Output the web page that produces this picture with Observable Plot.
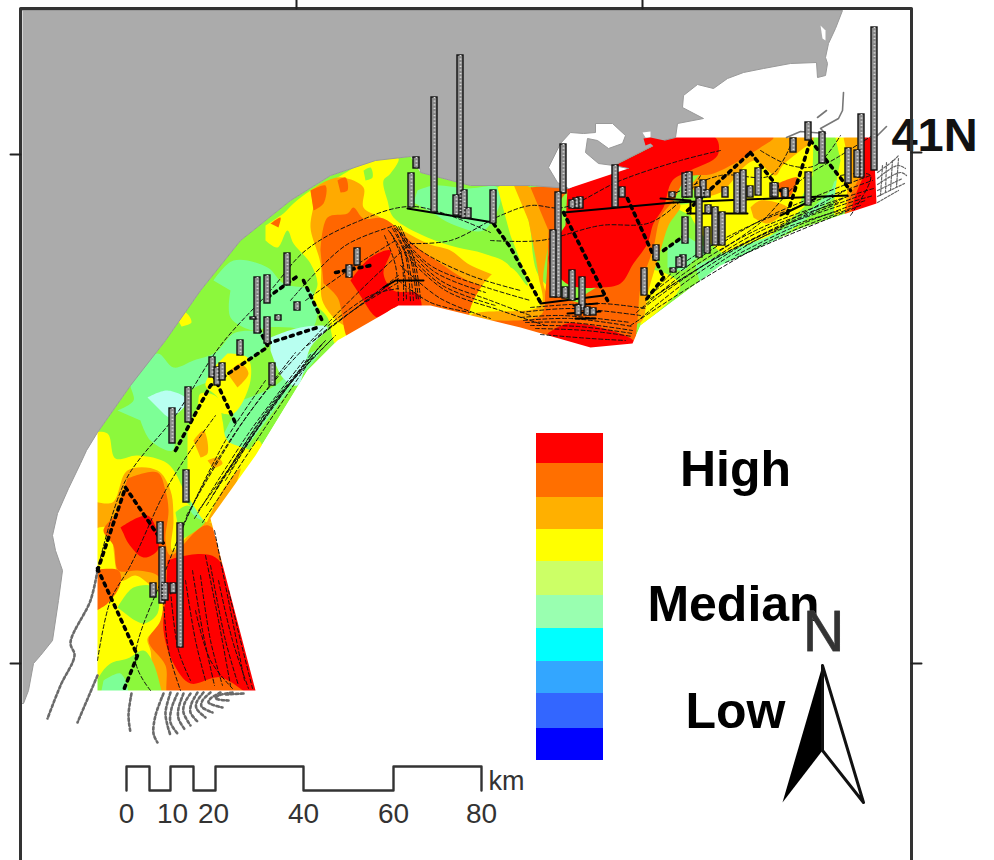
<!DOCTYPE html>
<html><head><meta charset="utf-8">
<style>html,body{margin:0;padding:0;background:#fff}svg{display:block}</style>
<script src="https://cdn.jsdelivr.net/npm/d3@7"></script>
<script src="https://cdn.jsdelivr.net/npm/@observablehq/plot@0.6"></script>
</head><body><div id="chart"></div>
<script>
const RED="#ff0000",DEEP="#ff6600",ORANGE="#ffaa00",YELLOW="#ffff00",LIME="#8cf83c",MINT="#7dff96",PALE="#b8fff0";
const LAND="#ababab";

const shelfBase=[[97,690],[97,432],[130,385],[165,340],[200,290],[240,240],[290,200],[330,175],[375,160],[410,156],[420,172],[470,185],[530,185],[568,188],[663,140],[665,137],[873,137],[876,203],[800,228],[720,265],[640,325],[632,343],[590,347],[520,327],[430,305],[398,305],[337,340],[307,370],[255,455],[210,518],[255,690]];

const sw_yellow=[[90,432],[107,433],[115,458],[137,455],[167,463],[182,487],[187,503],[210,518],[233,597],[262,700],[90,700]];
const sw_orange=[[90,500],[112,502],[127,470],[157,470],[170,490],[173,520],[172,550],[210,518],[262,700],[160,700],[150,650],[147,638],[160,625],[160,595],[150,585],[135,575],[120,580],[107,527],[90,530]];
const sw_deep=[[127,478],[157,472],[165,490],[168,510],[165,540],[170,555],[208,525],[262,700],[170,700],[165,665],[148,640],[160,620],[163,590],[157,575],[137,570],[118,570],[113,545],[103,530],[115,515]];
const sw_deep2=[[90,570],[118,570],[120,583],[107,603],[90,613]];
const sw_limeRing=[[117,607],[133,587],[155,587],[157,613],[143,623],[130,617]];
const sw_limeLow=[[90,700],[98,677],[110,663],[127,658],[143,650],[153,663],[163,700]];
const sw_mintLow=[[103,680],[120,673],[127,695],[100,695]];
const sw_red1=[[120,527],[147,515],[157,533],[157,550],[143,557],[128,543],[123,533]];
const sw_red2=[[167,560],[215,557],[262,700],[220,677],[190,683],[173,663],[163,630],[165,600]];
const sw_deep3=[[190,695],[220,677],[225,695]];
const sw_strip=[[175,512],[187,505],[205,520],[180,540]];

const w_mint=[[117,410],[133,400],[130,380],[157,353],[173,367],[193,360],[215,352],[235,332],[270,335],[265,345],[225,375],[190,390],[175,415],[172,450],[150,440],[140,420]];
const w_mint2=[[213,280],[233,260],[267,267],[283,283],[310,290],[317,310],[310,330],[290,327],[267,327],[253,330],[230,317],[230,290]];
const w_mintBand=[[240,400],[275,385],[305,355],[320,350],[285,395],[255,435],[230,470],[215,505],[205,520],[190,510],[215,450]];
const w_pale1=[[270,337],[300,327],[327,327],[310,347],[297,385],[283,378],[270,350]];
const w_pale2=[[147,397],[167,390],[187,400],[170,417],[163,413]];
const w_yellow=[[187,430],[197,407],[200,393],[217,397],[222,420],[227,440],[255,455],[215,510],[207,522],[193,505],[186,490],[187,470]];
const w_yellow2=[[227,353],[247,357],[250,380],[233,413],[217,410],[217,397],[205,385],[215,365]];
const w_orange1=[[193,440],[203,430],[207,453],[200,457]];
const w_orange2=[[207,460],[217,457],[222,463],[213,468]];
const w_orange3=[[227,373],[240,363],[248,373],[237,387]];
const w_coastYellow=[[175,315],[185,312],[191,322],[181,326]];
const w_edgeYellow=[[207,522],[232,478],[258,440],[262,450],[215,522]];
const w_edgeOrange=[[205,525],[222,490],[240,468],[225,510]];

const m_yellow=[[265,225],[283,213],[293,203],[310,190],[337,177],[363,163],[398,158],[390,173],[383,180],[387,200],[393,217],[427,237],[457,247],[483,253],[510,267],[510,330],[395,307],[337,345],[327,317],[313,300],[317,283],[310,263],[293,243],[287,230],[277,247],[265,240]];
const m_orange=[[310,190],[327,180],[342,177],[363,187],[363,207],[380,217],[427,243],[450,250],[467,263],[510,287],[510,330],[395,307],[350,327],[323,303],[320,263],[310,227],[313,207]];
const m_deep=[[320,250],[327,217],[347,213],[353,207],[363,218],[383,218],[417,247],[440,263],[467,280],[510,297],[510,330],[395,307],[350,340],[337,297],[323,283]];
const m_deep2=[[310,190],[325,185],[323,203],[313,210]];
const m_deep3=[[337,180],[345,177],[347,190],[340,192]];
const m_deep4=[[270,223],[280,217],[278,227]];
const m_red=[[350,280],[370,257],[390,250],[383,273],[393,290],[417,293],[420,310],[395,307],[377,317],[363,300]];
const m_lime=[[363,170],[370,167],[372,177],[365,180]];
const c_mint=[[417,190],[433,185],[467,188],[497,187],[500,200],[483,230],[450,223],[433,213],[413,202]];

const c_yellow=[[497,187],[512,183],[528,220],[538,275],[575,310],[570,335],[470,320],[490,275],[510,267],[527,285],[510,235]];
const c_orange=[[513,184],[530,187],[548,230],[545,290],[590,315],[600,340],[470,330],[470,315],[540,305],[538,275],[528,220]];
const c_deep=[[530,187],[568,188],[560,200],[555,230],[553,280],[560,295],[600,310],[632,343],[480,330],[470,322],[540,315],[545,290],[548,230]];

const e_deep=[[655,145],[665,137],[773,137],[760,147],[713,173],[687,177],[673,200],[660,217],[653,247],[640,287],[637,320],[632,343],[600,320],[580,300],[600,285]];
const e_orangeRim=[[660,215],[673,200],[680,205],[668,225],[660,250],[648,290],[640,322],[620,320],[640,285],[650,247]];
const c_red=[[567,188],[663,140],[667,137],[715,137],[717,155],[690,170],[672,180],[663,207],[653,223],[647,243],[633,263],[620,283],[600,287],[570,285],[553,270],[548,257],[565,225]];
const b_red=[[547,333],[567,323],[600,327],[633,340],[636,348],[593,350],[553,340]];

const e_yellow=[[670,205],[700,200],[730,177],[750,150],[790,145],[815,135],[830,175],[805,205],[770,235],[740,260],[705,238],[690,215]];
const e_orange=[[717,152],[760,137],[815,137],[800,150],[782,165],[775,175],[755,160],[745,165],[720,192],[700,195],[690,185]];
const e_orange2=[[750,207],[760,200],[787,207],[783,213],[767,223],[753,217]];
const e_deep2=[[777,183],[797,177],[788,197],[780,197]];
const e_lime=[[813,137],[835,137],[842,160],[838,185],[815,200],[800,205],[812,175]];
const e_mint=[[667,247],[687,237],[693,240],[707,250],[693,260],[683,270],[667,267]];
const e_mintBand=[[695,265],[730,250],[780,230],[830,190],[835,180],[845,183],[790,230],[730,265],[700,285]];
const e_edgeYellow=[[640,325],[680,285],[650,270],[640,295]];
const e_yellow2=[[740,258],[783,232],[800,225],[760,245],[720,265]];
const x_yellow=[[835,137],[845,137],[850,165],[852,200],[835,215],[835,190],[840,160]];
const x_orange=[[843,137],[862,137],[862,170],[845,212],[850,170]];
const x_deep=[[858,137],[873,137],[880,208],[845,215],[860,175]];
const x_red=[[862,137],[873,137],[880,208],[852,212],[862,178]];

const fillLayers=[
 [YELLOW,sw_yellow],[ORANGE,sw_orange],[DEEP,sw_deep],[DEEP,sw_deep2],[LIME,sw_limeRing],[LIME,sw_limeLow],[MINT,sw_mintLow],[RED,sw_red1],[RED,sw_red2],[DEEP,sw_deep3],[LIME,sw_strip],
 [MINT,w_mint],[MINT,w_mint2],[MINT,w_mintBand],[PALE,w_pale1],[PALE,w_pale2],[YELLOW,w_yellow],[YELLOW,w_yellow2],[ORANGE,w_orange1],[ORANGE,w_orange2],[ORANGE,w_orange3],[YELLOW,w_coastYellow],[YELLOW,w_edgeYellow],[ORANGE,w_edgeOrange],
 [YELLOW,m_yellow],[ORANGE,m_orange],[DEEP,m_deep],[DEEP,m_deep2],[DEEP,m_deep3],[DEEP,m_deep4],[RED,m_red],[LIME,m_lime],[MINT,c_mint],
 [YELLOW,e_yellow],[YELLOW,e_yellow2],[ORANGE,e_orange],[ORANGE,e_orange2],[DEEP,e_deep2],[LIME,e_lime],[MINT,e_mint],[MINT,e_mintBand],[YELLOW,e_edgeYellow],
 [YELLOW,c_yellow],[ORANGE,c_orange],[DEEP,c_deep],[ORANGE,e_orangeRim],[DEEP,e_deep],[RED,c_red],[RED,b_red],
 [YELLOW,x_yellow],[ORANGE,x_orange],[DEEP,x_deep],[RED,x_red]
];

const offshoreMask=[[97,432],[97,690],[255,690],[210,518],[255,455],[307,370],[337,340],[398,305],[430,305],[520,327],[590,347],[632,343],[640,325],[720,265],[800,228],[876,203],[873,137],[908,137],[908,858],[22,858],[22,432]];
const topMask=[[664,137],[908,137],[908,10],[664,10]];
const land=[[22,10],[842,10],[835,28],[828,43],[825,57],[827,63],[825,75],[817,77],[816,62],[790,63],[763,68],[743,72],[727,78],[713,88],[697,84],[683,95],[682,107],[703,118],[677,123],[675,137],[663,140],[568,188],[530,185],[470,185],[420,172],[418,160],[410,156],[375,160],[330,175],[290,200],[240,240],[200,290],[165,340],[130,385],[97,432],[86,450],[80,463],[68,488],[57,513],[52,535],[55,550],[62,570],[58,600],[52,640],[40,655],[33,663],[28,690],[23,703],[22,703]];
const bay=[[568,188],[557,182],[548,167],[560,143],[570,132],[583,133],[595,132],[595,123],[612,123],[625,135],[622,143],[608,148],[597,140],[587,138],[585,152],[598,163],[613,165],[628,168]];
const bay2=[[642,132],[650,131],[650,137],[645,137]];
const bay3=[[820,25],[825,30],[825,40],[822,38]];
const redNotch=[[643,138],[650,137],[664,140],[660,152],[650,143],[645,145]];

const coastFan=[
 [[97,570],[90,600],[70,642],[74,655],[60,685],[47,718]],[[97,675],[77,722]],[[131,693],[128,715],[130,732]],[[163,693],[155,715],[153,733],[157,742]],[[170,692],[165,712],[167,725],[170,735]],[[177,693],[171,708],[170,722],[177,733]],[[183,693],[178,708],[178,718],[185,730]],[[190,693],[184,703],[183,712],[190,725]],[[197,692],[191,703],[190,712],[198,722]],[[203,692],[196,702],[196,708],[205,717]],[[210,692],[202,700],[201,706],[212,712]],[[220,692],[210,698],[208,702],[222,707]],[[232,692],[218,695],[215,698],[228,700]],[[243,693],[225,694]],
];
const eastScribble=[[[877,172],[893,160],[898,155]],[[877,178],[897,165],[905,168]],[[877,184],[900,172],[906,175]],[[877,190],[902,178]],[[877,196],[904,183]],[[877,202],[898,190]],[[882,165],[880,195]],[[892,160],[890,190]],[[886,162],[885,192]],[[898,158],[896,186]]];
const capeLine=[[786,137],[800,131],[825,133],[820,128],[838,118],[842,110],[843,92]];
const capeLine2=[[817,117],[826,110]];
const capeLine3=[[877,135],[886,126]];

const contours=[
 [[170,590],[178,650],[190,680]],[[185,580],[195,640],[205,680]],[[200,575],[210,640],[222,685]],[[210,565],[225,640],[238,685]],[[218,580],[232,640],[248,688]],[[163,600],[168,650],[180,690]],[[228,590],[240,640],[252,688]],[[195,610],[210,660],[232,688]],[[192,570],[202,630],[214,685]],[[205,555],[218,620],[230,685]],[[214,530],[228,600],[244,680]],
 [[150,690],[135,660],[165,570],[205,480],[262,395],[330,320],[370,280],[410,243]],
 [[97,570],[125,480],[175,415],[220,345],[270,290],[305,250],[355,222],[413,206],[490,232]],
 [[97,660],[110,600],[130,565],[165,490],[190,450],[215,415]],
 [[186,515],[240,425],[295,352]],[[194,518],[250,430],[305,358]],[[202,522],[258,437],[315,352]],[[206,505],[262,420],[320,345]],[[212,495],[270,405],[325,340]],[[225,480],[280,395],[335,335]],[[180,530],[225,440],[265,380]],[[216,488],[266,412],[322,343]],[[230,470],[285,388],[332,338]],[[198,510],[254,433],[310,354]],
 [[307,345],[350,312],[398,275]],[[318,335],[360,305],[398,282]],[[328,325],[370,295],[398,288]],[[290,300],[345,245],[395,225]],[[305,300],[355,265],[395,240]],[[313,340],[355,308],[398,278]],
 [[395,228],[420,250],[470,275],[520,290]],[[400,235],[430,265],[480,285],[530,300]],[[403,245],[440,280],[490,300],[530,315]],[[405,255],[445,290],[500,310],[545,325]],[[400,265],[440,298],[490,318]],[[398,280],[430,302],[470,312]],[[402,240],[435,272],[485,292]],[[404,250],[442,285],[495,305]],
 [[388,230],[400,250],[403,300]],[[392,228],[405,255],[410,302]],[[396,226],[410,258],[416,300]],[[400,226],[414,260],[420,298]],[[384,235],[395,265],[398,300]],[[390,232],[402,260],[406,300]],[[394,228],[407,258],[413,300]],[[398,226],[412,260],[418,300]],
 [[410,243],[450,240],[500,215],[530,205],[563,207],[620,180],[680,160],[720,150]],
 [[490,240],[540,240],[600,225],[650,222],[690,190],[700,175]],
 [[520,317],[560,315],[630,322]],[[525,322],[570,322],[632,330]],[[535,328],[585,330],[632,336]],[[540,334],[590,338],[625,340]],[[520,312],[570,308],[640,315]],[[530,307],[600,303],[645,308]],[[523,320],[570,318],[632,326]],[[530,325],[578,326],[632,333]],
 [[640,318],[690,278],[760,235],[840,205],[873,195]],[[636,312],[685,272],[755,230],[835,200],[873,188]],[[645,300],[680,265],[750,225],[830,195],[872,180]],[[630,325],[700,280],[770,240],[850,208]],[[655,290],[695,260],[760,220],[835,188],[870,175]],[[710,268],[765,235],[840,210]],[[725,262],[775,240],[860,205]],[[650,298],[720,255],[785,222],[845,190]],[[745,245],[800,218],[860,195]],[[642,308],[688,275],[757,232],[838,202]],[[660,292],[715,258],[782,225],[845,197]],[[735,255],[790,228],[865,200]],
 [[760,150],[790,165],[815,165],[840,135]],[[720,250],[760,222],[800,180],[840,155],[872,135]],[[670,195],[720,175],[770,175],[790,145]],[[840,175],[870,175],[850,215]],
];
const thickDots=[
 [[97,570],[125,487]],[[125,487],[163,543]],[[97,568],[137,655],[123,690]],[[175,450],[210,385],[265,348]],[[213,375],[236,425]],[[267,297],[298,275]],[[303,280],[323,323]],[[267,345],[255,322]],[[267,343],[317,327]],
 [[493,223],[510,247],[540,302]],[[563,212],[607,300]],[[627,198],[663,277]],[[663,277],[645,300]],[[687,210],[750,152]],[[750,152],[780,190]],[[787,213],[810,140]],[[810,140],[850,190]],[[663,250],[687,233]],[[335,272],[370,265]],
];
const solidLines=[
 [[383,287],[395,280],[423,280]],[[407,208],[493,222]],[[540,303],[603,295]],[[563,212],[673,202]],[[673,202],[847,195]],[[687,213],[747,213]],[[780,215],[815,198]],
 [[660,198],[690,200],[690,213]],[[573,305],[597,303]],[[567,313],[600,311]],[[575,318],[595,318]],
];

const barX=[434,460,563,558,553,874,861,857,848,822,808,793,808,785,773,685,689,703,672,698,707,725,737,743,750,758,775,785,685,699,707,715,722,708,683,679,656,673,615,622,580,576,572,644,572,582,565,493,456,464,468,411,416,357,349,287,267,257,267,297,278,253,240,212,217,222,272,188,172,186,160,162,180,165,173,153,578,587,593];
const barTop=[97,55,144,192,230,27,114,150,148,132,122,138,172,190,183,173,172,180,192,187,190,187,173,170,186,168,183,188,217,198,227,207,212,205,255,257,245,268,165,187,197,198,200,268,270,277,287,190,195,190,208,173,157,248,265,253,275,277,317,302,315,317,340,357,367,363,363,387,408,470,522,547,523,583,583,583,305,307,308];
const barBase=[212,216,193,297,297,170,177,177,183,163,140,152,205,195,197,197,197,197,197,197,197,197,213,213,197,195,197,197,243,257,253,245,245,213,267,267,260,272,207,197,208,208,208,295,300,310,298,223,215,218,218,207,168,265,277,285,303,333,343,310,320,319,355,377,385,380,385,422,443,502,543,603,647,600,593,597,315,315,315];
const bars=barX.map((x,i)=>({x,top:barTop[i],base:barBase[i]}));

const legendColors=["#ff0000","#ff6f00","#ffb000","#ffff00","#ccff66","#99ffb0","#00ffff","#33a6ff","#3366ff","#0000ff"];
const legendEdges=[433,463,497,529,561,595,628,661,693,728,760];
const legend=legendColors.map((c,i)=>({c,y1:legendEdges[i],y2:legendEdges[i+1]}));
const legendLabels=[{t:"High",x:735,y:485},{t:"Median",x:733,y:620},{t:"Low",x:735,y:727}];

const scaleStep=[[126,790],[126,766],[149,766],[149,790],[170,790],[170,766],[193,766],[193,790],[215,790],[215,766],[303,766],[303,790],[393,790],[393,766],[481,766],[481,790]];
const scaleTicks=[0,10,20,40,60,80];
const scaleTickX=[126,172,213,303,393,481];

const arrowLeft=[[822,665],[782,802],[822,750]];
const arrowRight=[[822,665],[863,802],[822,750],[822,665]];
const frame=[[20,860],[20,8],[911,8],[911,860]];
const gridTicks=[[[296,0],[296,8]],[[642,0],[642,8]],[[10,154],[20,154]],[[10,663],[20,663]],[[911,152],[921,152]],[[911,663],[921,663]]];

const px=d=>d[0],py=d=>d[1];
const fillPoly=(pts,c,extra={})=>Plot.line(pts,{x:px,y:py,fill:c,stroke:"none",...extra});
const flat=list=>list.flatMap((l,i)=>l.map(p=>({x:p[0],y:p[1],z:i})));
const multi=(list,o)=>Plot.line(flat(list),{x:"x",y:"y",z:"z",fill:"none",...o});
const F="'Liberation Sans',Arial,sans-serif";

const chart=Plot.plot({
 width:994,height:860,margin:0,
 x:{domain:[0,994],range:[0,994],axis:null},
 y:{domain:[0,860],range:[0,860],axis:null},
 style:{background:"#fff",overflow:"visible"},
 marks:[
  fillPoly(shelfBase,LIME),
  ...fillLayers.map(([c,pts])=>fillPoly(pts,c,{curve:"catmull-rom"})),
  fillPoly(offshoreMask,"#fff"),
  fillPoly(topMask,"#fff"),
  fillPoly(land,LAND,{stroke:"#999",strokeWidth:1}),
  fillPoly(bay,"#fff",{stroke:"#999",strokeWidth:1}),
  fillPoly(bay2,"#fff"),fillPoly(bay3,"#fff"),fillPoly(redNotch,RED),
  multi(coastFan,{stroke:"#6a6a6a",strokeWidth:2.6,strokeDasharray:"2.6,2.4",curve:"catmull-rom"}),
  multi(eastScribble,{stroke:"#666",strokeWidth:1.2,strokeDasharray:"2.5,1.5",curve:"catmull-rom"}),
  multi([capeLine,capeLine2,capeLine3],{stroke:"#777",strokeWidth:1.6}),
  multi(contours,{stroke:"#111",strokeWidth:1,strokeDasharray:"4,2.5",curve:"catmull-rom"}),
  multi(thickDots,{stroke:"#000",strokeWidth:3.6,strokeDasharray:"3,5"}),
  multi(solidLines,{stroke:"#000",strokeWidth:2}),
  Plot.rect(bars,{x1:d=>d.x-3,x2:d=>d.x+3,y1:"top",y2:"base",fill:"#8a8a8a",stroke:"#111",strokeWidth:1.4}),
  Plot.ruleX(bars,{x:"x",y1:"top",y2:"base",stroke:"#dcdcdc",strokeWidth:1.8,strokeDasharray:"1.2,2.4"}),
  Plot.rect(legend,{x1:()=>536,x2:()=>603,y1:"y1",y2:"y2",fill:d=>d.c}),
  Plot.text(legendLabels,{x:"x",y:"y",text:"t",fontFamily:F,fontWeight:"bold",fontSize:50,fill:"#000",lineAnchor:"bottom",dy:0}),
  Plot.text(["41N"],{x:()=>934,y:()=>150,text:d=>d,fontFamily:F,fontWeight:"bold",fontSize:47,fill:"#111",lineAnchor:"bottom",dy:0}),
  Plot.text(["N"],{x:()=>823,y:()=>653,text:d=>d,fontFamily:F,fontSize:57,fill:"#333",stroke:"#555",strokeWidth:1,lineAnchor:"bottom",dy:-3}),
  fillPoly(arrowLeft,"#000"),
  Plot.line(arrowRight,{x:px,y:py,stroke:"#111",strokeWidth:3,fill:"#fff"}),
  Plot.line(scaleStep,{x:px,y:py,stroke:"#333",strokeWidth:2.4}),
  Plot.text(scaleTicks,{x:(d,i)=>scaleTickX[i],y:()=>823,text:d=>String(d),fontFamily:F,fontSize:28,fill:"#333",lineAnchor:"bottom",dy:-1}),
  Plot.text(["km"],{x:()=>506,y:()=>790,text:d=>d,fontFamily:F,fontSize:27,fill:"#333",lineAnchor:"bottom",dy:-1}),
  Plot.line(frame,{x:px,y:py,stroke:"#333",strokeWidth:3}),
  multi(gridTicks,{stroke:"#222",strokeWidth:2}),
 ]
});
document.getElementById("chart").append(chart);
</script></body></html>
